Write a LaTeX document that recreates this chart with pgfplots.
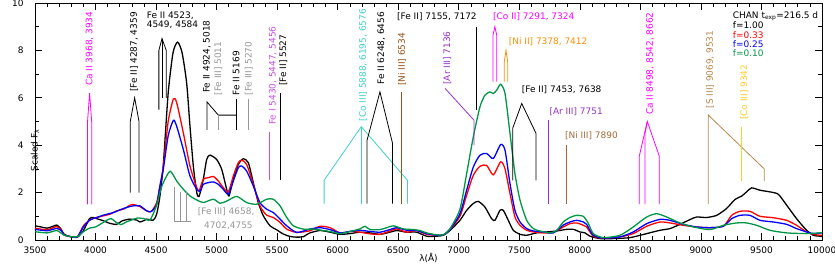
\documentclass[border=0pt]{standalone}
\usepackage{fontspec}
\setmainfont{DejaVu Sans}
\usepackage{pgfplots}
\usepackage{pgfplotstable}
\pgfplotsset{compat=1.18}
\definecolor{cmag}{RGB}{255,0,255}
\definecolor{cgray}{RGB}{150,150,150}
\definecolor{cviol}{RGB}{200,80,230}
\definecolor{cpurp}{RGB}{150,50,200}
\definecolor{cturq}{RGB}{64,208,200}
\definecolor{cbrown}{RGB}{150,80,20}
\definecolor{cbrown2}{RGB}{165,105,55}
\definecolor{ctan}{RGB}{185,135,75}
\definecolor{corange}{RGB}{255,140,0}
\definecolor{cgold}{RGB}{255,205,40}
\definecolor{cgreen}{RGB}{0,150,70}

\pgfplotstableread{
x y
3500 0.60
3550 0.55
3600 0.50
3650 0.58
3680 0.63
3710 0.50
3740 0.25
3790 0.14
3850 0.12
3900 0.40
3950 0.90
3980 0.95
4010 0.90
4065 0.81
4120 0.70
4175 0.66
4216 0.80
4250 0.85
4285 0.88
4340 0.84
4367 0.76
4400 0.82
4422 0.88
4477 0.84
4505 1.09
4532 1.86
4560 3.2
4600 6.2
4640 7.9
4678 8.35
4715 7.9
4753 6.6
4780 4.8
4808 3.1
4836 2.0
4855 1.84
4890 2.56
4918 3.4
4945 3.58
5000 3.4
5042 2.98
5083 2.14
5102 1.86
5138 2.56
5179 3.19
5220 3.43
5262 3.26
5303 2.42
5344 1.58
5386 1.02
5441 0.6
5496 0.43
5551 0.25
5606 0.15
5660 0.12
5715 0.14
5771 0.30
5854 0.40
5937 0.33
6019 0.24
6102 0.27
6184 0.33
6267 0.30
6350 0.24
6432 0.33
6487 0.40
6570 0.33
6652 0.33
6735 0.16
6818 0.16
6873 0.20
6927 0.40
7010 0.83
7065 1.25
7120 1.54
7161 1.63
7216 1.39
7271 0.90
7299 0.83
7340 1.25
7368 1.25
7409 0.83
7450 0.41
7506 0.24
7561 0.20
7643 0.30
7726 0.34
7808 0.38
7891 0.45
7946 0.45
8001 0.34
8042 0.30
8084 0.16
8166 0.06
8276 0.06
8414 0.10
8552 0.27
8662 0.41
8744 0.48
8827 0.66
8909 0.86
8964 0.97
9047 0.95
9130 1.04
9212 1.33
9281 1.71
9336 1.85
9377 2.03
9419 2.20
9488 2.10
9570 2.03
9639 1.93
9708 1.47
9790 0.90
9873 0.41
9928 0.20
9983 0.16
10000 0.15
}\tblack

\pgfplotstableread{
x y
3500 0.50
3600 0.43
3680 0.57
3720 0.40
3740 0.21
3800 0.14
3850 0.13
3900 0.60
3955 0.85
4010 0.95
4065 1.02
4120 1.09
4175 1.23
4230 1.30
4285 1.47
4310 1.50
4367 1.41
4422 1.23
4460 1.20
4505 1.58
4532 2.28
4560 3.12
4600 5.0
4643 5.95
4670 5.8
4725 4.52
4780 3.12
4836 2.21
4855 2.07
4890 2.56
4932 2.63
4973 2.68
5014 2.49
5055 2.21
5097 2.03
5138 2.7
5179 3.26
5207 3.37
5248 3.19
5303 2.35
5358 1.44
5413 1.05
5468 0.95
5524 0.74
5579 0.46
5661 0.32
5771 0.39
5854 0.58
5937 0.52
6019 0.30
6102 0.36
6184 0.33
6267 0.26
6350 0.24
6432 0.38
6487 0.47
6570 0.33
6652 0.40
6735 0.24
6818 0.20
6873 0.22
6927 0.44
7010 1.0
7065 1.89
7120 2.73
7175 3.11
7230 3.15
7285 2.75
7346 3.30
7382 3.0
7423 1.96
7464 0.97
7506 0.62
7561 0.41
7616 0.34
7698 0.30
7781 0.32
7863 0.55
7918 0.69
7974 0.72
8029 0.62
8056 0.55
8111 0.16
8194 0.08
8331 0.13
8441 0.27
8552 0.58
8662 0.76
8744 0.72
8854 0.62
8964 0.55
9075 0.52
9185 0.58
9254 1.04
9322 1.21
9405 1.21
9488 1.0
9598 0.94
9708 0.83
9790 0.62
9873 0.34
9928 0.24
9983 0.20
10000 0.2
}\tred

\pgfplotstableread{
x y
3500 0.45
3600 0.39
3680 0.49
3720 0.38
3740 0.21
3800 0.14
3850 0.13
3900 0.55
3955 0.85
4010 0.95
4065 1.05
4150 1.16
4200 1.27
4255 1.37
4310 1.44
4367 1.44
4422 1.23
4460 1.20
4505 1.50
4532 2.28
4560 3.0
4600 4.4
4643 5.05
4670 4.8
4725 3.82
4780 2.7
4836 2.14
4865 2.06
4890 2.35
4932 2.42
4973 2.45
5014 2.35
5055 2.14
5097 1.93
5138 2.49
5179 3.05
5207 3.12
5248 2.91
5303 2.28
5358 1.58
5413 1.30
5468 1.16
5524 0.88
5579 0.60
5661 0.32
5771 0.46
5854 0.52
5937 0.44
6019 0.30
6102 0.36
6184 0.41
6267 0.36
6350 0.33
6432 0.44
6487 0.52
6570 0.41
6652 0.40
6735 0.27
6818 0.20
6873 0.22
6927 0.44
7010 1.11
7065 2.1
7120 3.08
7175 3.58
7230 3.65
7285 3.44
7346 4.03
7382 3.79
7423 2.38
7464 1.25
7506 0.76
7561 0.48
7616 0.38
7698 0.34
7781 0.30
7863 0.63
7918 0.76
7974 0.83
8029 0.76
8056 0.66
8111 0.20
8194 0.08
8331 0.13
8441 0.34
8552 0.69
8662 0.87
8744 0.83
8854 0.66
8964 0.55
9075 0.52
9185 0.58
9254 0.90
9322 1.04
9405 1.04
9488 0.83
9598 0.76
9708 0.66
9790 0.48
9873 0.34
9928 0.27
9983 0.29
10000 0.3
}\tblue

\pgfplotstableread{
x y
3500 0.35
3600 0.30
3680 0.40
3740 0.21
3800 0.14
3850 0.14
3900 0.35
3950 0.50
4000 0.55
4050 0.70
4100 0.85
4130 0.90
4170 0.75
4210 0.65
4250 0.75
4300 0.85
4350 0.93
4400 0.90
4450 0.85
4500 1.4
4550 2.3
4615 2.9
4670 2.49
4725 2.14
4780 1.86
4836 1.69
4890 1.58
4973 1.72
5028 1.55
5083 1.64
5166 1.84
5248 1.58
5331 1.51
5413 1.72
5468 1.72
5524 1.44
5579 0.95
5634 0.60
5716 0.46
5799 0.46
5881 0.40
5937 0.36
6019 0.27
6102 0.36
6184 0.47
6226 0.58
6267 0.44
6350 0.44
6405 0.52
6460 0.60
6542 0.47
6625 0.44
6680 0.40
6735 0.30
6818 0.22
6873 0.22
6927 0.47
7010 1.3
7065 2.8
7120 4.35
7175 5.62
7216 6.11
7258 6.25
7285 6.18
7313 6.32
7346 6.57
7382 6.18
7423 4.5
7464 2.8
7506 1.68
7561 0.83
7616 0.48
7671 0.38
7753 0.30
7808 0.40
7863 0.76
7918 0.95
7974 1.04
8029 1.0
8070 0.70
8111 0.27
8194 0.10
8331 0.20
8441 0.55
8552 0.97
8634 1.11
8717 0.97
8827 0.72
8937 0.55
9075 0.44
9185 0.62
9295 0.72
9377 0.72
9460 0.62
9570 0.41
9708 0.30
9873 0.27
9983 0.30
10000 0.32
}\tgreen

\begin{document}
\begin{tikzpicture}[
  lab/.style={font=\fontsize{9}{10.5}\selectfont, inner sep=0pt},
  rot/.style={lab, rotate=90, anchor=west},
  hor/.style={lab, anchor=west},
  ann/.style={line width=0.8bp}]
\begin{axis}[
  scale only axis, width=787bp, height=237bp,
  xmin=3500, xmax=10000, ymin=0, ymax=10,
  xtick={3500,4000,...,10000}, minor x tick num=4,
  ytick={0,2,...,10}, minor y tick num=1,
  tick align=inside, major tick length=7bp, minor tick length=4bp,
  /pgf/number format/1000 sep={},
  /pgf/number format/assume math mode=true,
  scaled x ticks=false,
  ticklabel style={font=\fontsize{9}{10.5}\selectfont},
  xticklabel style={yshift=-3bp},
  yticklabel style={xshift=-8bp},
  xlabel={λ(Å)}, ylabel={Scaled F\textsubscript{λ}},
  label style={font=\fontsize{9}{10.5}\selectfont, inner sep=0pt},
  xlabel style={at={(axis description cs:0.5,0)}, anchor=north, yshift=-13bp},
  ylabel style={at={(axis description cs:0,0.5)}, anchor=center, xshift=-29bp},
  axis line style={line width=0.8bp},
  every tick/.style={black, line width=0.6bp},
  clip=false,
]
\addplot[black, line width=1.3bp, smooth, tension=0.4] table {\tblack};
\addplot[red, line width=1.3bp, smooth, tension=0.4] table {\tred};
\addplot[blue, line width=1.3bp, smooth, tension=0.4] table {\tblue};
\addplot[cgreen, line width=1.3bp, smooth, tension=0.4] table {\tgreen};

% Ca II H&K
\draw[ann, cmag] (3934,1.5)--(3934,5.0)--(3951,6.2)--(3968,5.0)--(3968,1.5);
\node[rot, cmag] at (3951,6.5) {Ca II 3968, 3934};
% [Fe II] 4287, 4359
\draw[ann] (4287,2.0)--(4287,5.0)--(4323,6.0)--(4359,5.0)--(4359,2.0);
\node[rot] at (4318,6.25) {[Fe II] 4287, 4359};
% Fe II 4523...
\draw[ann] (4523,5.5)--(4523,8.0)--(4549,8.5)--(4584,8.0)--(4584,6.0);
\draw[ann] (4549,6.0)--(4549,8.5);
\node[hor] at (4422,9.46) {Fe II 4523,};
\node[hor] at (4422,9.07) {4549, 4584};
% Fe II 4924, 5018 / [Fe III] 5011 / Fe II 5169 / [Fe III] 5270
\draw[ann] (4920,4.65)--(4920,5.83)--(5014,5.27)--(5162,5.27);
\draw[ann] (5162,4.65)--(5162,5.95);
\draw[ann, cgray] (5014,4.65)--(5014,5.27);
\draw[ann, cgray] (5265,4.65)--(5265,5.95);
\node[rot] at (4920,6.2) {Fe II 4924, 5018};
\node[rot, cgray] at (5014,6.1) {[Fe III] 5011};
\node[rot] at (5162,6.1) {Fe II 5169};
\node[rot, cgray] at (5265,6.1) {[Fe III] 5270};
% [Fe III] 4658...
\draw[ann, cgray] (4650,2.24)--(4650,0.8)--(4792,0.8);
\draw[ann, cgray] (4700,2.03)--(4700,0.8);
\draw[ann, cgray] (4747,2.03)--(4747,0.8);
\node[hor, cgray] at (4844,1.18) {[Fe III] 4658,};
\node[hor, cgray] at (4896,0.62) {4702,4755};
% Fe I
\draw[ann, cviol] (5440,2.52)--(5440,4.55);
\node[rot, cviol] at (5465,4.85) {Fe I 5430, 5447, 5456};
% [Fe II] 5527
\draw[ann] (5523,2.52)--(5523,6.2);
\node[rot] at (5550,6.5) {[Fe II] 5527};
% [Co III]
\draw[ann, cturq] (5888,1.54)--(5888,2.52)--(6195,4.78)--(6576,2.52)--(6576,1.54);
\draw[ann, cturq] (6195,1.54)--(6195,4.78);
\node[rot, cturq] at (6210,5.0) {[Co III] 5888, 6195, 6576};
% Fe II 6248, 6456
\draw[ann] (6242,1.54)--(6242,4.2)--(6349,6.25)--(6452,4.1)--(6452,1.54);
\node[rot] at (6360,6.55) {Fe II 6248, 6456};
% [Ni III] 6534
\draw[ann, cbrown] (6529,1.54)--(6529,6.25);
\node[rot, cbrown] at (6532,6.5) {[Ni III] 6534};
% [Ar III] 7136
\draw[ann, cpurp] (7125,4.0)--(7125,5.06)--(6886,6.4);
\node[rot, cpurp] at (6905,6.55) {[Ar III] 7136};
% [Fe II] 7155, 7172
\draw[ann] (7148,5.48)--(7148,9.0);
\node[hor] at (6490,9.42) {[Fe II] 7155, 7172};
% [Co II] 7291, 7324
\draw[ann, cmag] (7283,6.68)--(7283,8.65)--(7298,9.0)--(7313,8.65)--(7313,6.68);
\node[hor, cmag] at (7283,9.42) {[Co II] 7291, 7324};
% [Ni II]
\draw[ann, corange] (7376,6.68)--(7376,7.52)--(7390,8.0)--(7404,7.52)--(7404,6.68);
\node[hor, corange] at (7412,8.37) {[Ni II] 7378, 7412};
% [Fe II] 7453, 7638
\draw[ann] (7445,2.52)--(7445,4.71)--(7520,5.76)--(7638,4.5)--(7638,2.52);
\node[hor] at (7520,6.35) {[Fe II] 7453, 7638};
% [Ar III] 7751
\draw[ann, cpurp] (7742,1.54)--(7742,5.06);
\node[hor, cpurp] at (7748,5.41) {[Ar III] 7751};
% [Ni III] 7890
\draw[ann, cbrown2] (7885,1.54)--(7885,4.0);
\node[hor, cbrown2] at (7877,4.4) {[Ni III] 7890};
% Ca II triplet
\draw[ann, cmag] (8491,1.51)--(8491,3.54)--(8557,5.0)--(8656,3.54)--(8656,1.51);
\draw[ann, cmag] (8538,1.51)--(8538,4.5)--(8557,5.0);
\node[rot, cmag] at (8579,5.27) {Ca II 8498, 8542, 8662};
% [S III]
\draw[ann, ctan] (9061,1.51)--(9061,5.27)--(9523,3.0)--(9523,2.49);
\node[rot, ctan] at (9075,5.55) {[S III] 9069, 9531};
% [Co III] 9342
\draw[ann, cgold] (9336,2.49)--(9336,4.78);
\node[rot, cgold] at (9358,5.06) {[Co III] 9342};
% legend text
\node[hor] at (9262,9.45) {CHAN t\textsubscript{exp}=216.5 d};
\node[hor] at (9262,9.07) {f=1.00};
\node[hor, red] at (9262,8.65) {f=0.33};
\node[hor, blue] at (9262,8.25) {f=0.25};
\node[hor, cgreen] at (9262,7.87) {f=0.10};
\end{axis}
\pgfresetboundingbox
\path (-35bp,-31bp) rectangle (800bp,240bp);
\end{tikzpicture}
\end{document}
